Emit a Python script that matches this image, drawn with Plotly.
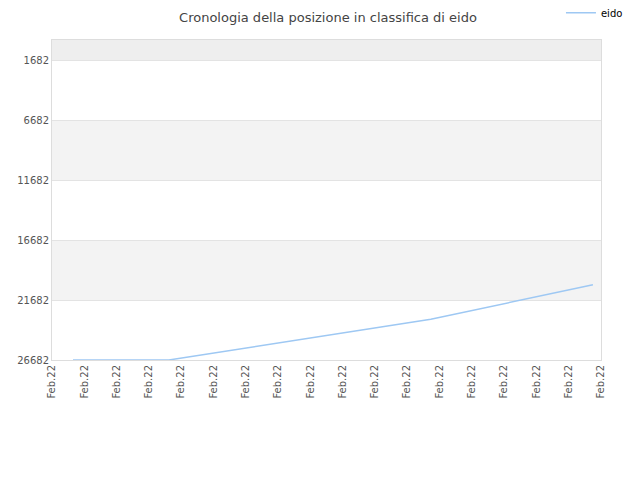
import plotly.graph_objects as go

# classifica di eido nel tempo (posizioni)
tick_labels = ["Feb.22"] * 18
point_x = [0.65, 3.62, 11.73, 16.75]
ranks = [26682, 26682, 23290, 20407]
rank_ticks = [1682, 6682, 11682, 16682, 21682, 26682]

fig = go.Figure()
fig.add_trace(
    go.Scatter(
        x=point_x,
        y=ranks,
        mode="lines",
        name="eido",
        line={"color": "#9ec8f3", "width": 1.5},
    )
)

# fasce alternate di sfondo
top = rank_ticks[0] - (rank_ticks[1] - rank_ticks[0]) / 3
shapes = [
    dict(type="rect", xref="paper", yref="y", x0=0, x1=1, y0=top, y1=rank_ticks[0],
         fillcolor="#eeeeee", line_width=0, layer="below"),
]
for lo, hi in [(rank_ticks[1], rank_ticks[2]), (rank_ticks[3], rank_ticks[4])]:
    shapes.append(
        dict(type="rect", xref="paper", yref="y", x0=0, x1=1, y0=lo, y1=hi,
             fillcolor="#f3f3f3", line_width=0, layer="below")
    )

fig.update_layout(
    width=640,
    height=480,
    margin=dict(l=44, r=47, t=32, b=128, autoexpand=False),
    paper_bgcolor="white",
    plot_bgcolor="white",
    font=dict(family="DejaVu Sans", size=10, color="#555555"),
    title=dict(
        text="Cronologia della posizione in classifica di eido",
        x=0.5,
        xanchor="center",
        y=0.98,
        yanchor="middle",
        font=dict(size=13, color="#444444"),
    ),
    showlegend=True,
    legend=dict(
        x=0.864,
        y=0.99,
        xref="container",
        yref="container",
        xanchor="left",
        yanchor="middle",
        font=dict(size=10, color="#000000"),
        bgcolor="rgba(0,0,0,0)",
        itemwidth=30,
    ),
    shapes=shapes,
    xaxis=dict(
        range=[0, 17],
        tickmode="array",
        tickvals=list(range(len(tick_labels))),
        ticktext=tick_labels,
        tickangle=-90,
        showgrid=False,
        zeroline=False,
        showline=True,
        linecolor="#dddddd",
        linewidth=1,
        mirror=True,
        ticks="",
        automargin=False,
    ),
    yaxis=dict(
        range=[rank_ticks[-1], top],
        tickmode="array",
        tickvals=rank_ticks,
        ticktext=[str(v) for v in rank_ticks],
        showgrid=True,
        gridcolor="#e3e3e3",
        gridwidth=1,
        zeroline=False,
        showline=True,
        linecolor="#dddddd",
        linewidth=1,
        mirror=True,
        ticks="",
        automargin=False,
    ),
)

fig.write_html("out.html")
